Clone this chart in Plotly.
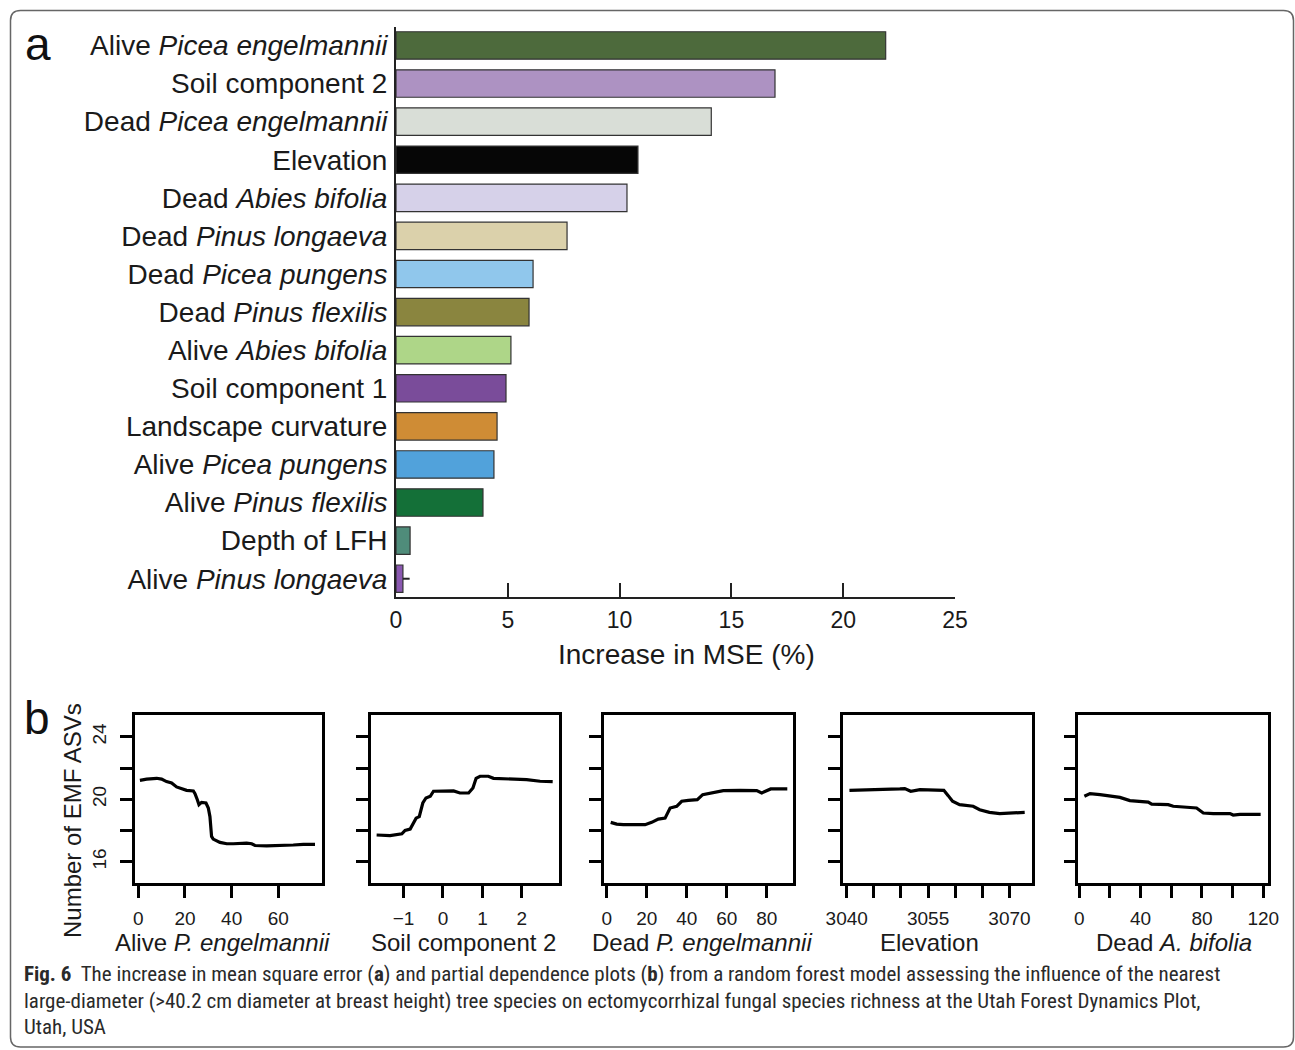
import plotly.graph_objects as go

W, H = 1295, 1050

# ---------------- Panel a data ----------------
predictors = [
    "Alive <i>Picea engelmannii</i>", "Soil component 2", "Dead <i>Picea engelmannii</i>",
    "Elevation", "Dead <i>Abies bifolia</i>", "Dead <i>Pinus longaeva</i>",
    "Dead <i>Picea pungens</i>", "Dead <i>Pinus flexilis</i>", "Alive <i>Abies bifolia</i>",
    "Soil component 1", "Landscape curvature", "Alive <i>Picea pungens</i>",
    "Alive <i>Pinus flexilis</i>", "Depth of LFH", "Alive <i>Pinus longaeva</i>",
]
mse_increase = [21.9, 16.95, 14.1, 10.82, 10.33, 7.65, 6.13, 5.95, 5.14, 4.92, 4.52, 4.38, 3.89, 0.63, 0.31]
mse_whisker = [0, 0, 0, 0, 0, 0, 0, 0, 0, 0, 0, 0, 0, 0, 0.3]
bar_colors = ["#4d6a3c", "#ad92c2", "#d9ded7", "#060606", "#d6d1e9", "#dbd1ab", "#90c7ec",
              "#8a853f", "#aed688", "#7a4c9a", "#cf8c35", "#51a2db", "#147038", "#4f8c7a", "#8a58b0"]
x_ticks_a = [0, 5, 10, 15, 20, 25]

# ---------------- Panel b data ----------------
pd1_x = [0.7, 3.6, 7.9, 10, 12.1, 14.3, 16.4, 18.6, 20.7, 23.6, 24.3, 25.3, 26, 27.1, 29, 30, 30.7, 31.4,
         32.1, 35, 37.9, 40.7, 46.4, 48.6, 50, 55, 62.1, 66.4, 70.7, 75.7]
pd1_y = [21.22, 21.3, 21.35, 21.3, 21.14, 21.05, 20.8, 20.67, 20.58, 20.54, 20.37, 19.98, 19.66, 19.81,
         19.77, 19.45, 18.9, 17.63, 17.46, 17.25, 17.16, 17.16, 17.2, 17.16, 17.05, 17.03, 17.03, 17.08,
         17.12, 17.12]
pd2_x = [-1.68, -1.34, -1.04, -0.96, -0.83, -0.75, -0.68, -0.6, -0.51, -0.43, -0.32, -0.24, -0.07, 0.27,
         0.43, 0.65, 0.76, 0.84, 0.94, 1.15, 1.28, 1.62, 2.12, 2.46, 2.78]
pd2_y = [17.72, 17.68, 17.8, 18.02, 18.1, 18.49, 18.8, 18.9, 19.77, 20.09, 20.2, 20.52, 20.54, 20.54,
         20.41, 20.41, 20.73, 21.35, 21.48, 21.48, 21.35, 21.31, 21.26, 21.16, 21.14]
pd3_x = [2, 5, 8.3, 13.3, 19.2, 22.5, 25.8, 29.2, 31.7, 35, 37.5, 40.8, 45.3, 48, 53.3, 58.3, 66.7, 75,
         77.5, 79.2, 82, 90.3]
pd3_y = [18.53, 18.42, 18.38, 18.38, 18.38, 18.53, 18.74, 18.8, 19.45, 19.56, 19.88, 19.94, 19.98, 20.3,
         20.41, 20.56, 20.58, 20.56, 20.41, 20.5, 20.67, 20.67]
pd4_x = [3040.5, 3044.3, 3049.8, 3050.7, 3051.8, 3053.5, 3055.9, 3057.9, 3058.7, 3059.5, 3060.8, 3062,
         3063.3, 3064.5, 3066.3, 3068.2, 3070.6, 3072.8]
pd4_y = [20.58, 20.6, 20.67, 20.69, 20.52, 20.62, 20.58, 20.58, 20.24, 19.88, 19.66, 19.6, 19.56, 19.34,
         19.17, 19.09, 19.11, 19.17]
pd5_x = [3.3, 7, 13.5, 20, 26.5, 33, 39.6, 45, 47.2, 58, 61.3, 70, 76.5, 80.9, 87.4, 98.3, 100.4, 104.8, 118.3]
pd5_y = [20.2, 20.37, 20.3, 20.24, 20.13, 19.92, 19.88, 19.83, 19.7, 19.66, 19.56, 19.51, 19.45, 19.13,
         19.09, 19.09, 19.0, 19.04, 19.04]

pd_xs = [pd1_x, pd2_x, pd3_x, pd4_x, pd5_x]
pd_ys = [pd1_y, pd2_y, pd3_y, pd4_y, pd5_y]
pd_titles = ["Alive <i>P. engelmannii</i>", "Soil component 2", "Dead <i>P. engelmannii</i>",
             "Elevation", "Dead <i>A. bifolia</i>"]
pd_tickvals = [[0, 20, 40, 60], [-1, 0, 1, 2], [0, 20, 40, 60, 80],
               [3040, 3045, 3050, 3055, 3060, 3065, 3070], [0, 20, 40, 60, 80, 100, 120]]
pd_ticktext = [["0", "20", "40", "60"], ["\u22121", "0", "1", "2"], ["0", "20", "40", "60", "80"],
               ["3040", "", "", "3055", "", "", "3070"], ["0", "", "40", "", "80", "", "120"]]
pd_ranges = [[-1.4, 78.7], [-1.83, 2.94], [-1.35, 93.3], [3039.26, 3074.2], [-0.65, 122.9]]
y_tickvals_b = [16, 18, 20, 22, 24]
y_ticktext_b = ["16", "", "20", "", "24"]

caption_lines = [
    "<b>Fig. 6</b>  The increase in mean square error (<b>a</b>) and partial dependence plots (<b>b</b>) from a random forest model assessing the influence of the nearest",
    "large-diameter (&gt;40.2 cm diameter at breast height) tree species on ectomycorrhizal fungal species richness at the Utah Forest Dynamics Plot,",
    "Utah, USA",
]

# ---------------- helpers ----------------
def px_x(p):
    return p / W

def px_y(p):
    return 1 - p / H

FONT = "Liberation Sans, Arial, sans-serif"
CAP_FONT = "Liberation Sans Narrow, Roboto Condensed, Arial Narrow, sans-serif"

fig = go.Figure()

# Panel a bars
fig.add_trace(go.Bar(
    x=mse_increase, y=list(range(len(predictors))), orientation="h",
    marker=dict(color=bar_colors, line=dict(color="#333333", width=1.2)),
    width=0.72,
    error_x=dict(type="data", array=mse_whisker, symmetric=False, arrayminus=[0]*len(mse_whisker),
                 color="#222222", thickness=2, width=0, visible=True),
    xaxis="x", yaxis="y", showlegend=False,
))

layout = dict(
    width=W, height=H, margin=dict(l=0, r=0, t=0, b=0, autoexpand=False),
    paper_bgcolor="white", plot_bgcolor="white", showlegend=False,
    font=dict(family=FONT, color="#1a1a1a"),
    xaxis=dict(domain=[px_x(396), px_x(955)], range=[0, 25], tickvals=x_ticks_a,
               ticks="inside", ticklen=14, tickwidth=2, tickcolor="#222",
               showline=True, linecolor="#222", linewidth=2, showgrid=False, zeroline=False,
               tickfont=dict(size=23, color="#1a1a1a"), anchor="y", ticklabelstandoff=1,
               automargin=False),
    yaxis=dict(domain=[px_y(597), px_y(27)], range=[14.48, -0.485],
               tickvals=list(range(len(predictors))), ticktext=predictors,
               ticks="", showline=True, linecolor="#222", linewidth=2, showgrid=False, zeroline=False,
               tickfont=dict(size=28, color="#1a1a1a"), anchor="x", ticklabelstandoff=1,
               automargin=False),
)

box_x = [(135, 322), (370.7, 559), (604, 793.3), (842.7, 1032.3), (1078.3, 1267.7)]
title_cx = [222, 464, 702, 929, 1174]
annotations = []
for i in range(5):
    n = i + 2
    xa, ya = f"x{n}", f"y{n}"
    fig.add_trace(go.Scatter(x=pd_xs[i], y=pd_ys[i], mode="lines",
                             line=dict(color="black", width=3.2), xaxis=xa, yaxis=ya,
                             showlegend=False))
    layout[f"xaxis{n}"] = dict(domain=[px_x(box_x[i][0]), px_x(box_x[i][1])], range=pd_ranges[i],
                               tickvals=pd_tickvals[i], ticktext=pd_ticktext[i],
                               ticks="outside", ticklen=12, tickwidth=2.5, tickcolor="black",
                               showline=True, mirror=True, linecolor="black", linewidth=2.5,
                               showgrid=False, zeroline=False, anchor=ya, automargin=False,
                               tickfont=dict(size=19, color="#1a1a1a"), ticklabelstandoff=4)
    layout[f"yaxis{n}"] = dict(domain=[px_y(883), px_y(715)], range=[14.65, 25.4],
                               tickvals=y_tickvals_b, ticktext=y_ticktext_b if i == 0 else [""] * 5,
                               ticks="outside", ticklen=12, tickwidth=2.5, tickcolor="black",
                               showline=True, mirror=True, linecolor="black", linewidth=2.5,
                               showgrid=False, zeroline=False, anchor=xa, tickangle=-90,
                               automargin=False,
                               tickfont=dict(size=19, color="#1a1a1a"), ticklabelstandoff=7)
    annotations.append(dict(text=pd_titles[i], x=px_x(title_cx[i]),
                            y=px_y(942), xref="paper", yref="paper", showarrow=False,
                            font=dict(size=24, color="#1a1a1a"), xanchor="center", yanchor="middle"))

annotations += [
    dict(text="Increase in MSE (%)", x=px_x(686), y=px_y(654), xref="paper", yref="paper",
         showarrow=False, font=dict(size=28, color="#1a1a1a"), xanchor="center", yanchor="middle"),
    dict(text="a", x=px_x(38), y=px_y(44), xref="paper", yref="paper", showarrow=False,
         font=dict(size=46, color="#111"), xanchor="center", yanchor="middle"),
    dict(text="b", x=px_x(37), y=px_y(718), xref="paper", yref="paper", showarrow=False,
         font=dict(size=46, color="#111"), xanchor="center", yanchor="middle"),
    dict(text="Number of EMF ASVs", x=px_x(72), y=px_y(821), xref="paper", yref="paper",
         showarrow=False, textangle=-90, font=dict(size=24, color="#1a1a1a"),
         xanchor="center", yanchor="middle"),
]
for k, line in enumerate(caption_lines):
    annotations.append(dict(text=line, x=px_x(22), y=px_y(974 + k * 26.5), xref="paper", yref="paper",
                            showarrow=False, xanchor="left", yanchor="middle", align="left",
                            font=dict(size=21, color="#2a2a2a", family=CAP_FONT)))
layout["annotations"] = annotations

# rounded frame
x0, x1, y0, y1, r = 10.5, 1293.5, 10.5, 1047, 10
def P(x, y):
    return f"{px_x(x):.5f},{px_y(y):.5f}"
path = (f"M {P(x0 + r, y0)} L {P(x1 - r, y0)} Q {P(x1, y0)} {P(x1, y0 + r)} "
        f"L {P(x1, y1 - r)} Q {P(x1, y1)} {P(x1 - r, y1)} L {P(x0 + r, y1)} "
        f"Q {P(x0, y1)} {P(x0, y1 - r)} L {P(x0, y0 + r)} Q {P(x0, y0)} {P(x0 + r, y0)} Z")
layout["shapes"] = [dict(type="path", path=path, xref="paper", yref="paper",
                         line=dict(color="#666666", width=1.5), fillcolor="rgba(0,0,0,0)")]

fig.update_layout(**layout)
fig.write_html("out.html", config={"displayModeBar": False},
               post_script="document.body.style.margin='0px';document.body.style.overflow='hidden';")
